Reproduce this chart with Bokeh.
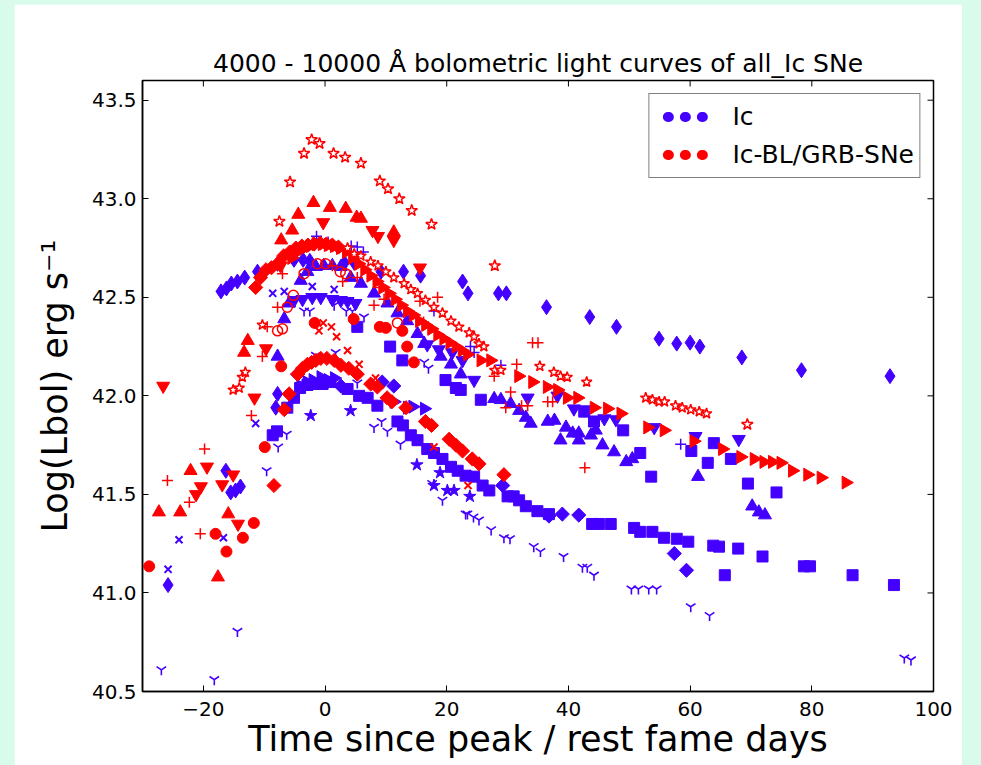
import numpy as np
from bokeh.plotting import figure
from bokeh.models import (ColumnDataSource, Range1d, FixedTicker, Legend,
                          LegendItem, NumeralTickFormatter)
from bokeh.layouts import column
from bokeh.embed import file_html
from bokeh.resources import INLINE

BLUE = "#4400ff"
RED = "#ff0000"
MINT = "#d8fbec"
FONT = "DejaVu Sans"

# ---------------- data (time since peak [d], log L_bol) ----------------
# Ic-BL / GRB-SNe (red)
grb_openstar_t = [-7.5, -5.75, -3.45, -2.2, -0.9, 1.4, 3.3, 5.9, 9.0, 10.35, 12.2, 14.25, 17.5, 27.9, 69.4]
grb_openstar_L = [42.885, 43.085, 43.23, 43.30, 43.28, 43.23, 43.21, 43.18, 43.09, 43.05, 43.00, 42.94, 42.87, 42.66, 41.855]

grb_star2_t = [-15.1, -14.1, -13.6, -13.1, -10.3, 3.7, 4.8, 5.9, 7.5, 8.7, 10.0, 11.3, 13.0, 14.1, 15.2, 16.5,
               17.9, 19.3, 20.7, 22.0, 23.7, 24.5, 25.3, 26.1, 27.9, 28.9, 35.3, 37.6, 38.7, 39.8, 43.0,
               52.7, 53.8, 54.9, 55.8, 57.6, 58.7, 60.1, 61.5, 62.7]
grb_star2_L = [42.03, 42.04, 42.095, 42.12, 42.36, 42.75, 42.72, 42.71, 42.68, 42.66, 42.63, 42.60, 42.57, 42.54,
               42.52, 42.485, 42.45, 42.42, 42.38, 42.35, 42.32, 42.30, 42.265, 42.25, 42.13, 42.13, 42.15,
               42.12, 42.10, 42.095, 42.07, 41.99, 41.98, 41.97, 41.97, 41.95, 41.94, 41.93, 41.92, 41.91]

grb_tright_t = [-5.5, -4.5, -3.5, -2.5, -1.5, -0.5, 0.5, 1.5, 2.5, 3.5, 4.5, 5.5, 6.5, 7.5, 8.5, 9.5, 10.5,
                11.5, 12.5, 13.5, 14.5, 15.5, 16.5, 17.5, 18.5, 19.5, 20.5, 21.5, 22.5, 23.4, 25.6, 27.2,
                31.8, 34.1, 36.5, 38.2, 39.8, 41.5, 44.2, 46.4, 48.6, 53.0, 55.7, 60.6, 65.3, 68.3, 70.5,
                72.1, 73.5, 74.9, 76.8, 79.3, 81.5, 85.6]
grb_tright_L = [42.70, 42.73, 42.75, 42.76, 42.77, 42.77, 42.765, 42.76, 42.75, 42.73, 42.70, 42.67, 42.64,
                42.61, 42.58, 42.55, 42.52, 42.49, 42.46, 42.43, 42.41, 42.38, 42.36, 42.34, 42.31, 42.29,
                42.27, 42.25, 42.23, 42.21, 42.18, 42.18, 42.10, 42.07, 42.045, 42.03, 41.99, 41.99, 41.94,
                41.935, 41.91, 41.84, 41.825, 41.77, 41.73, 41.69, 41.68, 41.665, 41.665, 41.66, 41.62,
                41.60, 41.585, 41.56]

grb_dia_hi_t = [-11.4, -10.6, -9.7, -8.8, -7.8, -6.8, -5.8, -4.8, -3.8, -2.8, -1.8, -0.8, 0.2, 1.2, 2.2]
grb_dia_hi_L = [42.55, 42.60, 42.64, 42.65, 42.67, 42.71, 42.73, 42.75, 42.76, 42.765, 42.77, 42.775, 42.77,
                42.765, 42.755]

grb_dia_lo_t = [-8.4, -6.7, -5.9, -4.5, -3.7, -2.9, -2.2, -1.5, -0.7, 0.3, 1.5, 2.6, 3.9, 5.3, 7.5, 8.6,
                10.2, 11.0, 13.3, 16.5, 17.5, 20.4, 21.5, 22.6, 24.2, 25.3, 29.4]
grb_dia_lo_L = [41.545, 41.93, 42.01, 42.11, 42.14, 42.16, 42.17, 42.18, 42.19, 42.19, 42.18, 42.155, 42.14,
                42.11, 42.06, 42.045, 41.99, 41.97, 41.94, 41.87, 41.85, 41.78, 41.75, 41.72, 41.68, 41.655,
                41.60]

grb_circle_t = [-28.9, -18.0, -16.2, -13.5, -11.7, -9.9, -7.2, -1.7, 4.7, 9.0, 10.0, 12.7, 13.5, 14.6]
grb_circle_L = [41.135, 41.30, 41.21, 41.28, 41.355, 41.74, 42.15, 42.37, 42.39, 42.35, 42.345, 42.33, 42.25, 42.17]

grb_ocircle_t = [-7.8, -7.0, -6.2, -5.2, -3.45, -1.25, 0.1, 2.5, 3.4, 11.9]
grb_ocircle_L = [42.33, 42.34, 42.45, 42.51, 42.62, 42.67, 42.67, 42.63, 42.62, 42.37]

grb_plus_t = [-25.9, -22.3, -20.5, -19.8, -12.1, -10.3, -9.5, -7.8, -7.0, 1.2, 2.9, 5.3, 8.05, 8.9, 9.7,
              15.6, 16.2, 18.5, 27.8, 29.7, 30.5, 31.5, 32.3, 33.3, 34.1, 35.0, 36.6, 37.4, 42.7]
grb_plus_L = [41.57, 41.46, 41.30, 41.73, 41.90, 42.20, 42.35, 42.45, 42.62, 42.66, 42.58, 42.60, 42.46, 42.55,
              42.49, 42.48, 42.375, 42.50, 42.10, 41.94, 42.02, 42.16, 41.95, 41.95, 42.27, 42.27, 41.97,
              41.97, 41.635]

grb_x_t = [-1.0, -0.3, 1.05, 1.9, 3.7, 5.6, 8.3, 17.9, 23.5]
grb_x_L = [42.33, 42.37, 42.35, 42.30, 42.23, 42.16, 42.09, 41.74, 41.545]

grb_tup_t = [-27.3, -23.8, -22.1, -17.6, -15.9, -13.3, -12.7, -7.2, -5.4, -4.4, -1.9, 0.8, 3.4, 5.2, 5.9, 11.3]
grb_tup_L = [41.41, 41.41, 41.62, 41.08, 41.40, 42.22, 42.28, 42.79, 42.84, 42.92, 42.98, 42.955, 42.95,
             42.905, 42.90, 42.83]

grb_tdown_t = [-26.6, -21.2, -20.4, -19.4, -16.9, -15.1, -14.3, -11.6, -9.7, -7.3, -0.3, 7.8, 8.7, 11.3, 15.6]
grb_tdown_L = [42.05, 41.50, 41.54, 41.64, 41.55, 41.60, 41.35, 41.99, 42.24, 42.66, 42.88, 42.84, 42.81,
               42.79, 42.65]

# Ic (blue)
ic_thin_t = [-17.1, -16.2, -15.4, -14.4, -13.2, -11.1, -7.8, -5.1, -3.6, -2.5, 3.2, 4.8, 9.2, 12.9, 15.7,
             22.6, 23.5, 28.5, 29.8, 36.4, 43.5, 47.9, 54.9, 57.8, 60.0, 61.6, 68.5, 78.3, 92.85]
ic_thin_L = [42.53, 42.545, 42.57, 42.58, 42.60, 42.63, 42.67, 42.69, 42.69, 42.685, 42.675, 42.675, 42.63,
             42.63, 42.61, 42.58, 42.52, 42.52, 42.52, 42.45, 42.40, 42.35, 42.29, 42.265, 42.27, 42.25,
             42.195, 42.13, 42.10]

ic_thin2_t = [-25.8, -16.3, -15.5, -14.7, -13.9, -8.1, -7.8]
ic_thin2_L = [41.04, 41.62, 41.51, 41.52, 41.54, 41.94, 42.01]

ic_dia_t = [-4.5, 2.6, 9.4, 11.3, 29.2, 36.8, 39.0, 41.7, 57.4, 59.4]
ic_dia_L = [42.11, 42.05, 42.07, 42.05, 41.545, 41.39, 41.40, 41.395, 41.20, 41.115]

ic_sq_t = [-8.6, -7.9, -6.2, -5.1, -4.1, -2.9, -1.8, -0.4, 0.9, 3.7, 5.6, 7.0, 8.6, 11.9, 12.8, 14.1, 15.2,
           16.8, 17.9, 19.3, 20.7, 21.8, 23.1, 24.5, 25.9, 27.0, 30.0, 31.0, 31.9, 33.0, 34.9, 36.8, 43.9,
           45.0, 46.95, 50.8, 51.8, 53.8, 55.7, 57.8, 59.7, 63.8, 64.75, 65.7, 67.9, 71.9, 78.7, 79.7,
           86.7, 93.5]
ic_sq_L = [41.80, 41.82, 41.94, 41.99, 42.04, 42.055, 42.06, 42.06, 42.07, 42.035, 42.00, 41.99, 41.95,
           41.87, 41.85, 41.80, 41.775, 41.73, 41.71, 41.68, 41.64, 41.62, 41.595, 41.59, 41.545, 41.52,
           41.49, 41.49, 41.47, 41.44, 41.415, 41.40, 41.35, 41.35, 41.35, 41.33, 41.31, 41.31, 41.28,
           41.275, 41.26, 41.24, 41.235, 41.09, 41.225, 41.185, 41.135, 41.135, 41.09, 41.04]

ic_sq2_t = [5.3, 10.7, 12.7, 19.8, 21.5, 22.3, 25.6, 42.6, 44.2, 49.0, 51.8, 53.6, 60.2, 62.9, 63.9, 66.7,
            69.5, 74.2]
ic_sq2_L = [42.35, 42.25, 42.18, 42.08, 42.04, 42.03, 41.98, 41.92, 41.87, 41.825, 41.71, 41.59, 41.72,
            41.66, 41.76, 41.68, 41.555, 41.51]

ic_tup_t = [-7.8, -6.7, -5.9, -4.0, -2.9, -1.5, -0.2, 1.2, 2.6, 4.2, 5.9, 8.05, 10.25, 11.9, 13.5, 15.2,
            16.3, 19.0, 20.7, 22.3, 27.8, 28.9, 30.5, 31.9, 33.0, 33.8, 36.6, 37.7, 38.7, 39.6, 40.7, 41.7,
            41.7, 43.7, 44.5, 45.6, 47.5, 49.5, 50.5, 61.3, 70.2, 71.3, 72.3]
ic_tup_L = [42.20, 42.39, 42.47, 42.585, 42.63, 42.655, 42.66, 42.66, 42.655, 42.60, 42.57, 42.52, 42.47,
            42.42, 42.38, 42.315, 42.265, 42.20, 42.16, 42.11, 41.985, 41.98, 41.96, 41.925, 41.89, 41.86,
            41.87, 41.875, 41.775, 41.84, 41.81, 41.81, 41.775, 41.80, 41.825, 41.75, 41.715, 41.665,
            41.68, 41.59, 41.44, 41.41, 41.395]

ic_tdown_t = [-5.1, -3.7, -2.1, -0.7, 1.2, 2.6, 3.7, 5.0, 16.8, 18.7, 20.9, 22.6, 24.5, 33.3, 38.2, 40.9,
              42.6, 45.9, 47.8, 54.1, 60.9, 68.0]
ic_tdown_L = [42.485, 42.49, 42.50, 42.50, 42.49, 42.485, 42.48, 42.47, 42.26, 42.235, 42.22, 42.18, 42.08,
              41.99, 42.00, 41.935, 41.93, 41.885, 41.88, 41.84, 41.795, 41.78]

ic_plus_t = [-1.4, 0.5, 4.3, 5.3, 6.3, 17.9, 23.9, 24.5, 28.9, 58.45]
ic_plus_L = [42.81, 42.78, 42.76, 42.755, 42.73, 42.43, 42.25, 42.22, 42.155, 41.755]

ic_x_t = [-25.8, -24.0, -16.7, -11.4, -8.6, -6.7, -2.1, 1.5]
ic_x_L = [41.12, 41.27, 41.28, 41.86, 42.52, 42.53, 42.555, 42.54]

ic_y_t = [-26.9, -18.2, -14.4, -9.6, -7.7, -6.3, -3.45, -2.5, -1.5, 1.5, 1.75, 3.5, 4.5, 5.3, 6.4, 8.05,
          9.3, 10.25, 12.4, 16.3, 17.0, 17.6, 19.3, 23.1, 23.4, 24.4, 25.3, 27.3, 29.4, 30.4, 34.3, 35.4,
          39.2, 42.3, 43.1, 44.2, 50.35, 51.5, 53.2, 54.5, 60.1, 63.2, 95.2, 96.3]
ic_y_L = [40.61, 40.56, 40.805, 41.62, 41.74, 41.805, 42.43, 42.43, 42.205, 42.46, 42.22, 42.43, 42.43,
          42.065, 42.40, 41.84, 41.87, 41.82, 41.755, 42.17, 42.14, 41.555, 41.47, 41.40, 41.40, 41.385,
          41.37, 41.32, 41.28, 41.275, 41.235, 41.21, 41.185, 41.13, 41.13, 41.09, 41.02, 41.02, 41.02,
          41.02, 40.93, 40.885, 40.67, 40.66]

ic_star_t = [-2.35, 4.2, 15.1, 17.9, 18.9, 20.1, 21.2, 23.8]
ic_star_L = [41.90, 41.925, 41.65, 41.545, 41.61, 41.52, 41.52, 41.49]

ic_tright_t = [-4.0, -3.0, -2.0, -0.7, 0.5, 1.5, 11.3, 13.5, 14.4, 16.3]
ic_tright_L = [42.05, 42.07, 42.08, 42.095, 42.08, 42.09, 41.97, 41.94, 41.945, 41.935]

x_ticks = [-20, 0, 20, 40, 60, 80, 100]
y_ticks = [40.5, 41.0, 41.5, 42.0, 42.5, 43.0, 43.5]
x_lim = (-30, 100)
y_lim = (40.5, 43.6)
legend_labels = ["Ic", "Ic-BL/GRB-SNe"]

# ---------------- figure ----------------
W, H = 948, 761
BL, BR, BT, BB = 128, 29, 76, 74
p = figure(width=W, height=H, x_range=Range1d(*x_lim), y_range=Range1d(*y_lim),
           output_backend="svg", toolbar_location=None,
           min_border_left=BL, min_border_right=BR, min_border_top=BT, min_border_bottom=BB,
           background_fill_color="white", border_fill_color="white",
           title="4000 - 10000 Å bolometric light curves of all_Ic SNe")
p.margin = (4, 19, 0, 14)
p.grid.visible = False
p.outline_line_color = "black"
p.outline_line_width = 1.5

p.title.text_font = FONT
p.title.text_font_size = "25px"
p.title.text_font_style = "normal"
p.title.text_color = "black"
p.title.align = "center"
p.title.standoff = 5

for ax in (p.xaxis[0], p.yaxis[0]):
    ax.axis_line_color = "black"
    ax.axis_line_width = 1.5
    ax.major_tick_in = 6
    ax.major_tick_out = 0
    ax.major_tick_line_color = "black"
    ax.minor_tick_line_color = None
    ax.major_label_text_font = FONT
    ax.major_label_text_font_size = "20px"
    ax.major_label_text_color = "black"
    ax.axis_label_text_font = FONT
    ax.axis_label_text_font_size = "35px"
    ax.axis_label_text_font_style = "normal"
    ax.axis_label_text_color = "black"

p.xaxis.ticker = FixedTicker(ticks=x_ticks)
p.xaxis.major_label_overrides = {-20: "\u221220"}
p.xaxis.axis_label = "Time since peak / rest fame days"
p.xaxis.axis_label_standoff = 0
p.xaxis.major_label_standoff = 10

p.yaxis.ticker = FixedTicker(ticks=y_ticks)
p.yaxis.formatter = NumeralTickFormatter(format="0.0")
p.yaxis.axis_label = "Log(Lbol) erg s\u207b\u00b9"
p.yaxis.axis_label_standoff = 14
p.yaxis.major_label_standoff = 6

# inward tick marks on the top and right spines (6 px long)
fw, fh = W - BL - BR, H - BT - BB
dx = 6 * (x_lim[1] - x_lim[0]) / fw
dy = 6 * (y_lim[1] - y_lim[0]) / fh
p.segment(x0=x_ticks, y0=[y_lim[1]] * len(x_ticks), x1=x_ticks, y1=[y_lim[1] - dy] * len(x_ticks),
          line_color="black", line_width=1)
p.segment(x0=[x_lim[1]] * len(y_ticks), y0=y_ticks, x1=[x_lim[1] - dx] * len(y_ticks), y1=y_ticks,
          line_color="black", line_width=1)


def add(t, L, marker, color, size, fill="same", angle=0.0, lw=1.0):
    src = ColumnDataSource(dict(t=t, L=L))
    fc = color if fill == "same" else fill
    p.scatter("t", "L", source=src, marker=marker, size=size, angle=angle,
              line_color=color, fill_color=fc, line_width=lw)


# Ic (blue)
add(ic_y_t, ic_y_L, "y", BLUE, 11, lw=1.6)
add(ic_sq_t, ic_sq_L, "square", BLUE, 11)
add(ic_sq2_t, ic_sq2_L, "square", BLUE, 11)
add(ic_thin_t, ic_thin_L, "diamond", BLUE, 15)
add(ic_thin2_t, ic_thin2_L, "diamond", BLUE, 15)
add(ic_dia_t, ic_dia_L, "square", BLUE, 10, angle=np.pi / 4)
add(ic_tup_t, ic_tup_L, "triangle", BLUE, 13)
add(ic_tdown_t, ic_tdown_L, "inverted_triangle", BLUE, 13)
add(ic_tright_t, ic_tright_L, "triangle", BLUE, 13, angle=-np.pi / 2)
add(ic_star_t, ic_star_L, "star", BLUE, 13)
add(ic_plus_t, ic_plus_L, "cross", BLUE, 11, lw=1.5)
add(ic_x_t, ic_x_L, "x", BLUE, 10, lw=2)

# Ic-BL / GRB (red)
add(grb_dia_lo_t, grb_dia_lo_L, "square", RED, 10, angle=np.pi / 4)
add(grb_dia_hi_t, grb_dia_hi_L, "square", RED, 10, angle=np.pi / 4)
add(grb_tright_t, grb_tright_L, "triangle", RED, 13, angle=-np.pi / 2)
add(grb_star2_t, grb_star2_L, "star", RED, 11, fill="white", lw=1.5)
add(grb_openstar_t, grb_openstar_L, "star", RED, 12, fill="white", lw=1.5)
add(grb_circle_t, grb_circle_L, "circle", RED, 11)
add(grb_ocircle_t, grb_ocircle_L, "circle", RED, 10, fill=None, lw=1.5)
add(grb_plus_t, grb_plus_L, "cross", RED, 11, lw=1.5)
add(grb_x_t, grb_x_L, "x", RED, 10, lw=2)
add(grb_tup_t, grb_tup_L, "triangle", RED, 13)
add(grb_tdown_t, grb_tdown_L, "inverted_triangle", RED, 13)

# legend proxies (a single NaN point, so nothing is drawn in the plot area):
# three dots drawn as a round-capped dashed line in the legend
nan = [float("nan")]
proxies = []
for col in (BLUE, RED):
    proxies.append(p.line(x=nan, y=nan, line_color=col, line_width=10, line_dash="1 16",
                          line_cap="round", line_dash_offset=4))
legend = Legend(items=[LegendItem(label=lab, renderers=[r]) for lab, r in zip(legend_labels, proxies)],
                location="top_right", margin=13, padding=5, spacing=3,
                glyph_width=57, glyph_height=35, label_standoff=21,
                label_text_font=FONT, label_text_font_size="25px", label_text_color="black",
                border_line_color="black", border_line_width=1.5,
                background_fill_color="white", background_fill_alpha=1.0)
p.add_layout(legend)

page = column(p, width=981, height=765, styles={"background-color": MINT})

open("out.html", "w").write(file_html(page, INLINE))
